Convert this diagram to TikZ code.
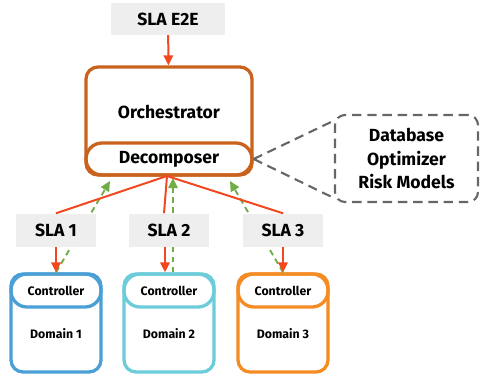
\documentclass[tikz,border=0pt]{standalone}
\usepackage{fontspec}
\setmainfont{Fira Sans}
\usetikzlibrary{arrows.meta}
\usetikzlibrary{positioning}

\definecolor{orchcol}{HTML}{C9621C}
\definecolor{slared}{HTML}{F2471F}
\definecolor{ackgreen}{HTML}{70AD47}
\definecolor{slagray}{HTML}{EEEEEE}
\definecolor{dom1col}{HTML}{4A9FD6}
\definecolor{dom2col}{HTML}{6CCCDA}
\definecolor{dom3col}{HTML}{F58B23}
\definecolor{kbgray}{HTML}{666666}

\begin{document}
\begin{tikzpicture}[
          x=0.03cm, y=-0.03cm,
          >={Triangle[length=3mm,width=2.8mm]},
          every node/.style={font=\bfseries}
        ]

          % styles
          \tikzstyle{sla}=[fill=slagray, minimum width=2.4cm, minimum height=0.99cm, inner sep=0pt, font=\bfseries\fontsize{15}{18}\selectfont]
          \tikzstyle{orch}=[draw=orchcol, line width=2.8pt, rounded corners=0.36cm, inner sep=0pt]
          \tikzstyle{dombox}=[line width=2.8pt, rounded corners=0.36cm, minimum width=2.7cm, minimum height=2.94cm, inner sep=0pt]
          \tikzstyle{ctl}=[line width=2.8pt, rounded corners=0.48cm, minimum width=2.7cm, minimum height=0.99cm, inner sep=0pt, font=\bfseries\fontsize{10.5}{12}\selectfont]
          \tikzstyle{domtext}=[font=\bfseries\fontsize{10.5}{12}\selectfont]
          \tikzstyle{slaarrow}=[->, draw=slared, line width=1.7pt]
          \tikzstyle{fanout}=[draw=slared, line width=1.7pt]
          \tikzstyle{ack}=[->, draw=ackgreen, line width=1.6pt, dash pattern=on 5pt off 3.5pt]
          \tikzstyle{kbline}=[draw=kbgray, line width=1.8pt, dash pattern=on 8pt off 5pt]

          \useasboundingbox (0,0) rectangle (480,379);

          % orchestrator
          \node[sla, minimum width=3.39cm, minimum height=0.96cm] (e2e) at (168,19) {SLA E2E};
          \node[orch, minimum width=4.98cm, minimum height=3.24cm] (orch) at (169,121) {};
          \node[font=\bfseries\fontsize{15}{18}\selectfont] (orchtitle) at (169,112) {Orchestrator};
          \node[orch, rounded corners=0.48cm, minimum width=4.98cm, minimum height=0.96cm,
                font=\bfseries\fontsize{15}{18}\selectfont] (dec) at (169,159) {Decomposer};

          % knowledge box
          \node[draw=kbgray, line width=1.8pt, dash pattern=on 8pt off 5pt, rounded corners=0.3cm,
                minimum width=4.29cm, minimum height=2.61cm, align=center,
                font=\bfseries\fontsize{15}{20}\selectfont] (kb) at (406.5,158.5)
                {Database\\Optimizer\\Risk Models};
          \draw[kbline] (dec.east) -- ([yshift=-0.2cm]kb.north west);
          \draw[kbline] (dec.east) -- ([yshift=0.15cm]kb.south west);

          % domains
          \node[dombox, draw=dom1col] (dom1) at (56,323) {};
          \node[dombox, draw=dom2col] (dom2) at (169,323) {};
          \node[dombox, draw=dom3col] (dom3) at (283,323) {};
          \node[ctl, draw=dom1col] (ctl1) at (56,290.5) {Controller};
          \node[ctl, draw=dom2col] (ctl2) at (169,290.5) {Controller};
          \node[ctl, draw=dom3col] (ctl3) at (283,290.5) {Controller};
          \node[domtext] (domtext1) at (56,334) {Domain 1};
          \node[domtext] (domtext2) at (169,334) {Domain 2};
          \node[domtext] (domtext3) at (283,334) {Domain 3};

          % feedback (behind the sla boxes)
          \coordinate (up1) at (110,181);
          \coordinate (up2) at (173,178);
          \coordinate (up3) at (230,181);
          \draw[ack] (ctl1.north) -- (up1);
          \draw[ack] ([xshift=0.12cm]ctl2.north) -- (up2);
          \draw[ack] (ctl3.north) -- (up3);

          % per-domain sla
          \node[sla] (sla1) at (56,230) {SLA 1};
          \node[sla] (sla2) at (169,230) {SLA 2};
          \node[sla] (sla3) at (283,230) {SLA 3};

          % edges
          \coordinate (fork) at (167,176);
          \draw[slaarrow] (e2e) -- (orch);
          \draw[fanout] (fork) -- (sla1.north);
          \draw[fanout] (fork) -- ([xshift=-0.15cm]sla2.north);
          \draw[fanout] (fork) -- (sla3.north);
          \draw[slaarrow] (sla1) -- (ctl1);
          \draw[slaarrow] ([xshift=-0.12cm]sla2.south) -- ([xshift=-0.12cm]ctl2.north);
          \draw[slaarrow] (sla3) -- (ctl3);

        \end{tikzpicture}
\end{document}
